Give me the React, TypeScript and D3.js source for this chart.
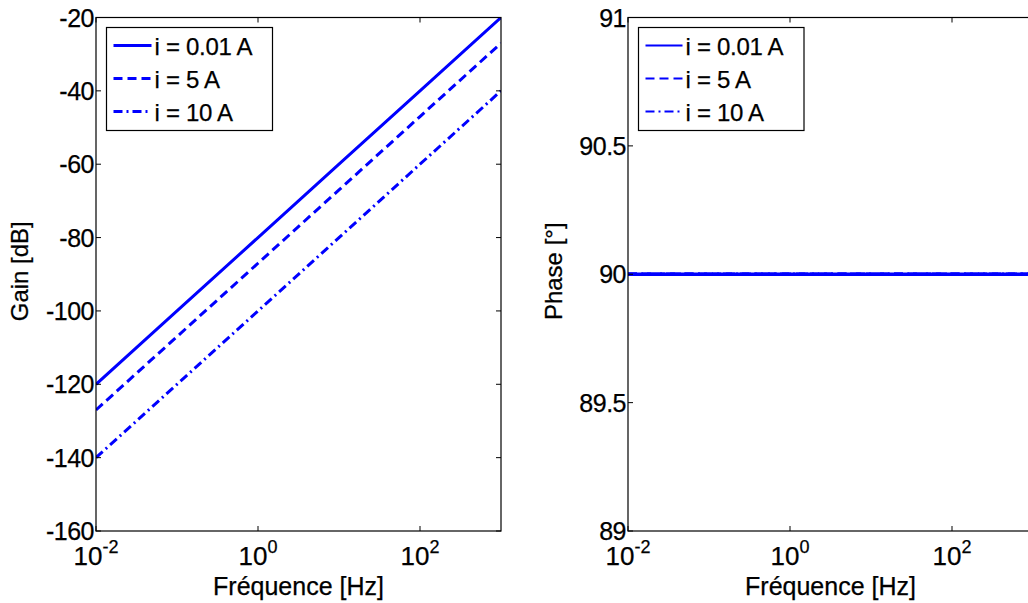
import React from "react";
import * as d3 from "d3";

const freqs = [0.01, 0.1, 1, 10, 100, 1000];
const gain001 = [-120, -100, -80, -60, -40, -20];
const gain5 = [-127, -107, -87, -67, -47, -27];
const gain10 = [-140, -120, -100, -80, -60, -40];
const phase001 = [90, 90, 90, 90, 90, 90];
const phase5 = [90, 90, 90, 90, 90, 90];
const phase10 = [90, 90, 90, 90, 90, 90];
const seriesLabels = ["i = 0.01 A", "i = 5 A", "i = 10 A"];
const xTickExps = [-2, 0, 2];
const gainTicks = [-20, -40, -60, -80, -100, -120, -140, -160];
const phaseTicks = [89, 89.5, 90, 90.5, 91];

const dashes = [null, "9,5", "9,4,2,4"];
const FONT = "Arial, 'Liberation Sans', sans-serif";
const BLUE = "#0000ff";
const TXT = { fill: "#000", stroke: "#000", strokeWidth: 0.25 };

type PanelProps = {
  left: number;
  right: number;
  top: number;
  bottom: number;
  yDomain: [number, number];
  yTicks: number[];
  series: number[][];
  ylabel: string;
  ylabelX: number;
  lw: number;
  legend: { x: number; y: number; w: number; h: number; lineW: number; legLw: number };
};

function Panel(p: PanelProps) {
  const x = d3.scaleLog().domain([0.01, 1000]).range([p.left, p.right]);
  const y = d3.scaleLinear().domain(p.yDomain).range([p.bottom, p.top]);
  const line = d3
    .line<[number, number]>()
    .x((d) => x(d[0]))
    .y((d) => y(d[1]));
  const tl = 5;
  const xMid = (x(0.01) + x(0.01) + 405) / 2;
  return (
    <g>
      <defs>
        <clipPath id={"clip" + p.left}>
          <rect x={p.left} y={p.top} width={p.right - p.left} height={p.bottom - p.top} />
        </clipPath>
      </defs>
      <g clipPath={`url(#clip${p.left})`}>
        {p.series.map((s, i) => (
          <path
            key={i}
            d={line(freqs.map((f, j) => [f, s[j]] as [number, number])) || ""}
            fill="none"
            stroke={BLUE}
            strokeWidth={p.lw}
            strokeDasharray={dashes[i] || undefined}
          />
        ))}
      </g>
      <rect
        x={p.left}
        y={p.top}
        width={p.right - p.left}
        height={p.bottom - p.top}
        fill="none"
        stroke="#000"
        strokeWidth={1.2}
      />
      {xTickExps.map((e) => {
        const xv = x(Math.pow(10, e));
        return (
          <g key={e}>
            <line x1={xv} x2={xv} y1={p.bottom} y2={p.bottom - tl} stroke="#000" strokeWidth={1} />
            <line x1={xv} x2={xv} y1={p.top} y2={p.top + tl} stroke="#000" strokeWidth={1} />
            <text x={xv} y={565} textAnchor="middle" fontFamily={FONT} fontSize={26} {...TXT}>
              10
              <tspan fontSize={18} dy={-12}>
                {e}
              </tspan>
            </text>
          </g>
        );
      })}
      {p.yTicks.map((t) => {
        const yv = y(t);
        return (
          <g key={t}>
            <line x1={p.left} x2={p.left + tl} y1={yv} y2={yv} stroke="#000" strokeWidth={1} />
            <line x1={p.right} x2={p.right - tl} y1={yv} y2={yv} stroke="#000" strokeWidth={1} />
            <text
              x={p.left - 2}
              y={yv + 9}
              textAnchor="end"
              fontFamily={FONT}
              fontSize={25}
              letterSpacing={-0.5}
              {...TXT}
            >
              {String(t)}
            </text>
          </g>
        );
      })}
      <text x={xMid} y={595} textAnchor="middle" fontFamily={FONT} fontSize={25} {...TXT}>
        Fréquence [Hz]
      </text>
      <text
        transform={`translate(${p.ylabelX},${(p.top + p.bottom) / 2 - 3}) rotate(-90)`}
        textAnchor="middle"
        fontFamily={FONT}
        fontSize={24}
        {...TXT}
      >
        {p.ylabel}
      </text>
      <rect
        x={p.legend.x}
        y={p.legend.y}
        width={p.legend.w}
        height={p.legend.h}
        fill="#fff"
        stroke="#000"
        strokeWidth={1.2}
      />
      {seriesLabels.map((lab, i) => {
        const ly = p.legend.y + 18 + i * 33;
        return (
          <g key={lab}>
            <line
              x1={p.legend.x + 7}
              x2={p.legend.x + 7 + p.legend.lineW}
              y1={ly}
              y2={ly}
              stroke={BLUE}
              strokeWidth={p.legend.legLw}
              strokeDasharray={dashes[i] || undefined}
            />
            <text
              x={p.legend.x + 10 + p.legend.lineW}
              y={ly + 9}
              fontFamily={FONT}
              fontSize={24}
              letterSpacing={-0.3}
              {...TXT}
            >
              {lab}
            </text>
          </g>
        );
      })}
    </g>
  );
}

export default function App() {
  return (
    <svg
      width={1028}
      height={603}
      style={{ position: "absolute", left: 0, top: 0, background: "#fff" }}
    >
      <rect x={0} y={0} width={1028} height={603} fill="#fff" />
      <Panel
        left={96}
        right={501}
        top={17.5}
        bottom={531}
        yDomain={[-160, -20]}
        yTicks={gainTicks}
        series={[gain001, gain5, gain10]}
        ylabel="Gain [dB]"
        ylabelX={28}
        lw={3}
        legend={{ x: 106.5, y: 27.5, w: 166, h: 103, lineW: 38, legLw: 3 }}
      />
      <Panel
        left={628}
        right={1033}
        top={17.5}
        bottom={531}
        yDomain={[89, 91]}
        yTicks={phaseTicks}
        series={[phase001, phase5, phase10]}
        ylabel="Phase [°]"
        ylabelX={562}
        lw={3.5}
        legend={{ x: 638.5, y: 27.5, w: 165.5, h: 103, lineW: 37, legLw: 2 }}
      />
    </svg>
  );
}
